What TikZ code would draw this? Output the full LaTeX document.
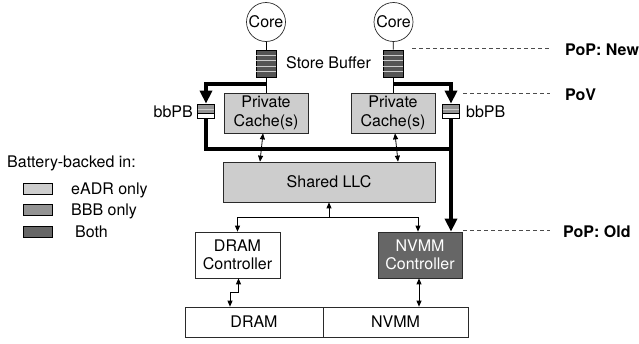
\documentclass[tikz,border=0pt]{standalone}
\usepackage{fontspec}
\setmainfont{TeX Gyre Heros}
\usetikzlibrary{arrows.meta,calc}
\definecolor{eadr}{HTML}{CDCDCD}
\definecolor{bbb}{HTML}{939393}
\definecolor{both}{HTML}{666666}
\definecolor{sbfill}{HTML}{555555}
\definecolor{edge}{HTML}{2A2A2A}
\begin{document}
\begin{tikzpicture}[x=1pt,y=-1pt,
  font=\fontsize{16}{18.5}\selectfont,
  box/.style={draw=edge, line width=0.7pt, inner sep=0pt, align=center},
  lbl/.style={inner sep=0pt},
  corecirc/.style={circle, draw=edge, line width=0.7pt, minimum size=39pt, inner sep=0pt},
  sbuf/.style={draw=black, line width=0.7pt, fill=sbfill, minimum width=20pt, minimum height=27pt, inner sep=0pt},
  bbuf/.style={draw=black, line width=0.7pt, fill=bbb, minimum width=17pt, minimum height=14pt, inner sep=0pt},
  stripe/.style={draw=white!80!black, line width=0.8pt},
  thin/.style={draw=black, line width=0.8pt},
  dbl/.style={draw=black, line width=0.8pt, {Triangle[length=6pt,width=5pt]}-{Triangle[length=6pt,width=5pt]}},
  sarr/.style={draw=black, line width=0.8pt, -{Triangle[length=6pt,width=5pt]}},
  thickln/.style={draw=black, line width=3.5pt},
  thickarr/.style={draw=black, line width=3.5pt, -{Triangle[length=13pt,width=12pt]}},
  dashln/.style={draw=black!70, line width=0.8pt, dash pattern=on 4pt off 3pt},
  legbox/.style={draw=black, line width=0.7pt, minimum width=29pt, minimum height=11pt, inner sep=0pt}
]
\useasboundingbox (0,0) rectangle (639,343);

% cores
\node[corecirc] (coreL) at (266,22) {Core};
\node[corecirc] (coreR) at (393.5,22) {Core};

% store buffers
\node[sbuf] (sbL) at (266,63.5) {};
\node[sbuf] (sbR) at (393,63.5) {};
\foreach \n in {sbL,sbR}{
  \foreach \i in {1,...,4}{
    \draw[stripe] ($(\n.north west)!\i/5!(\n.south west)+(0.6,0)$) -- ($(\n.north east)!\i/5!(\n.south east)+(-0.6,0)$);
  }
}
\node[lbl, anchor=west] (sbtxt) at (286,63) {Store Buffer};

% private caches
\node[box, fill=eadr, minimum width=84pt, minimum height=40pt] (pcL) at (266,113) {Private\\Cache(s)};
\node[box, fill=eadr, minimum width=84pt, minimum height=40pt] (pcR) at (393,113) {Private\\Cache(s)};

% bbPB
\node[bbuf] (bbL) at (206,111) {};
\node[bbuf] (bbR) at (451,111) {};
\foreach \n in {bbL,bbR}{
  \fill[white] ($(\n.north west)!0.68!(\n.south west)+(0.4,0)$) rectangle ($(\n.south east)+(-0.4,-0.4)$);
  \draw[stripe] ($(\n.north west)!0.38!(\n.south west)+(0.5,0)$) -- ($(\n.north east)!0.38!(\n.south east)+(-0.5,0)$);
  \draw[black, line width=0.7pt] ($(\n.north west)!0.68!(\n.south west)$) -- ($(\n.north east)!0.68!(\n.south east)$);
}
\node[lbl, anchor=east] (bbLt) at (193,112) {bbPB};
\node[lbl, anchor=west] (bbRt) at (466,112) {bbPB};

% shared LLC
\node[box, fill=eadr, minimum width=212pt, minimum height=40pt] (llc) at (329,182) {Shared LLC};

% controllers
\node[box, fill=white, minimum width=85pt, minimum height=46pt] (dramc) at (237.5,255) {DRAM\\Controller};
\node[box, fill=both, text=white, minimum width=84pt, minimum height=46pt] (nvmmc) at (420,255) {NVMM\\Controller};

% memories
\node[box, minimum width=138pt, minimum height=30pt] (dram) at (254,322) {DRAM};
\node[box, minimum width=145pt, minimum height=30pt] (nvmm) at (395.5,322) {NVMM};

% thin stems
\draw[thin] (coreL) -- (sbL);
\draw[thin] (sbL) -- (pcL);
\draw[thin] (coreR) -- (sbR);
\draw[thin] (sbR) -- (pcR);

% thick persist paths
\coordinate (jL) at (266,84);
\coordinate (jR) at (393,84);
\coordinate (jB) at (451,149);
\draw[thickarr] (jL) -| (bbL.north);
\draw[thickarr] (jR) -| (bbR.north);
\draw[thickln] (bbL.south) |- (jB);
\draw[thickarr] (bbR.south) -- (bbR.south |- nvmmc.north);

% cache <-> LLC
\draw[dbl] ([xshift=-3pt]pcL.south) -- ([xshift=-6pt]pcL.south |- llc.north);
\draw[dbl] ([xshift=2pt]pcR.south) -- ([xshift=5pt]pcR.south |- llc.north);

% LLC <-> controllers
\coordinate (hub) at (329,217);
\draw[sarr] (hub) -- (llc.south);
\draw[sarr] (hub) -| (dramc.north);
\draw[sarr] (hub) -| ([xshift=-2pt]nvmmc.north);

% controllers <-> memories
\draw[dbl] ([xshift=1pt]dramc.south) -- ++(0,14) -| ([xshift=-7.5pt]dramc.south |- dram.north);
\draw[dbl] ([xshift=-1pt]nvmmc.south) -- ([xshift=-1pt]nvmmc.south |- nvmm.north);

% points of persistence / visibility
\node[lbl, anchor=west, font=\fontsize{16}{18.5}\selectfont\bfseries] (pnew) at (565,50) {PoP: New};
\node[lbl, anchor=west, font=\fontsize{16}{18.5}\selectfont\bfseries] (pov) at (565,95) {PoV};
\node[lbl, anchor=west, font=\fontsize{16}{18.5}\selectfont\bfseries] (pold) at (563,232) {PoP: Old};
\coordinate (dn1) at (412,48);
\coordinate (dn2) at (550,48);
\coordinate (dv1) at (463,93);
\coordinate (dv2) at (550,93);
\coordinate (do1) at (463,230);
\coordinate (do2) at (550,230);
\draw[dashln] (dn1) -- (dn2);
\draw[dashln] (dv1) -- (dv2);
\draw[dashln] (do1) -- (do2);

% legend
\node[lbl, anchor=west] (legt) at (7,163) {Battery-backed in:};
\node[legbox, fill=eadr] (lg1) at (37.5,189) {};
\node[legbox, fill=bbb] (lg2) at (37.5,210) {};
\node[legbox, fill=both] (lg3) at (37.5,232) {};
\node[lbl, anchor=west] (lt1) at (71,190) {eADR only};
\node[lbl, anchor=west] (lt2) at (71,211) {BBB only};
\node[lbl, anchor=west] (lt3) at (75,232) {Both};
\end{tikzpicture}
\end{document}
